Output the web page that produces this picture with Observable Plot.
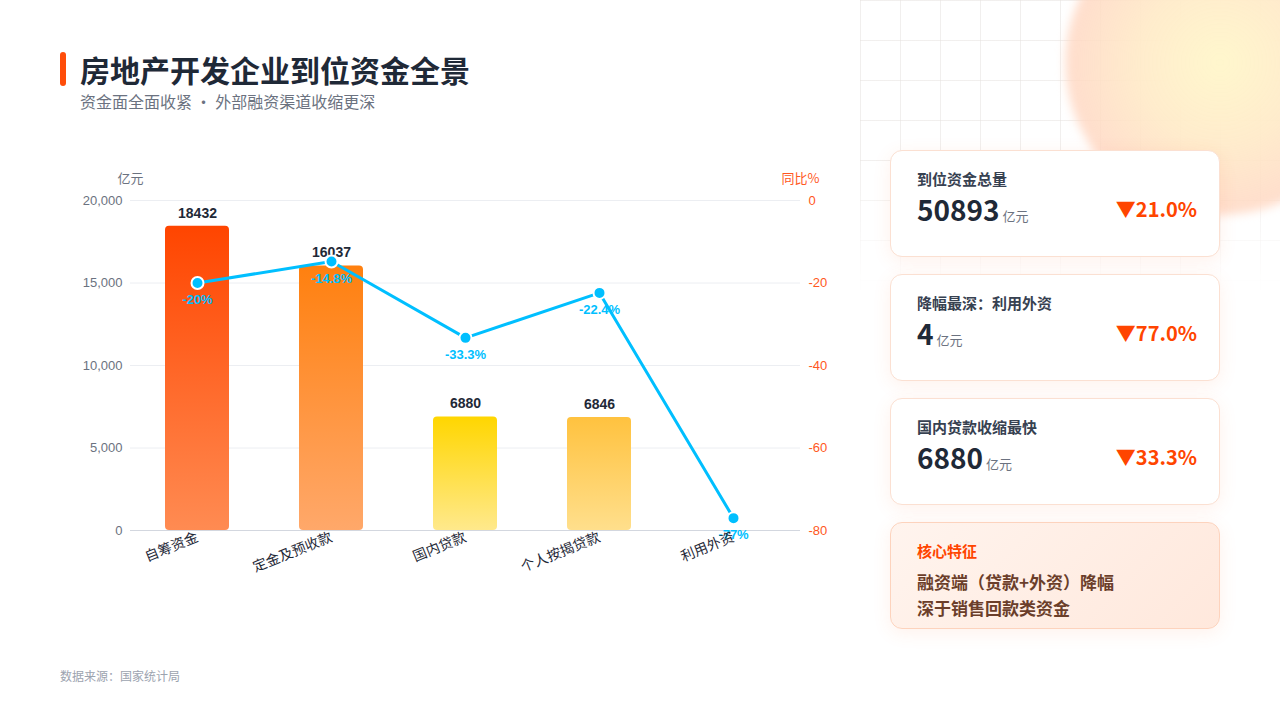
<!DOCTYPE html>
<html lang="zh-CN">
<head>
<meta charset="utf-8">
<script src="https://cdn.jsdelivr.net/npm/d3@7"></script>
<script src="https://cdn.jsdelivr.net/npm/@observablehq/plot@0.6"></script>
<style>
  html, body { margin: 0; padding: 0; }
  body {
    width: 1280px; height: 720px; overflow: hidden; position: relative; background: #ffffff;
    font-family: "Noto Sans CJK SC", "Noto Sans", sans-serif;
  }
  .grid-bg {
    position: absolute; left: 860px; top: 0; width: 420px; height: 290px;
    background-image:
      linear-gradient(to right, rgba(230,226,224,0.55) 1px, transparent 1px),
      linear-gradient(to bottom, rgba(230,226,224,0.55) 1px, transparent 1px);
    background-size: 40px 40px;
    background-position: 0 0;
    -webkit-mask-image: linear-gradient(to bottom, #000 55%, transparent 100%);
    mask-image: linear-gradient(to bottom, #000 55%, transparent 100%);
  }
  .blob {
    position: absolute; left: 1065px; top: -90px; width: 310px; height: 305px; border-radius: 50%;
    background: radial-gradient(circle at 50% 50%, rgba(255,247,205,1) 0%, rgba(255,234,200,0.92) 38%, rgba(255,214,192,0.8) 68%, rgba(255,218,204,0) 100%);
    filter: blur(5px);
  }
  .title-bar { position: absolute; left: 60px; top: 52px; width: 6px; height: 34px; border-radius: 3px; background: #FF4D0A; }
  .title { position: absolute; left: 80px; top: 48px; font-size: 30px; font-weight: 700; color: #1f2937; line-height: 42px; letter-spacing: 0px; }
  .subtitle { position: absolute; left: 80px; top: 90px; font-size: 16px; color: #6b7280; line-height: 22px; }
  #chart { position: absolute; left: 0; top: 160px; }
  .source { position: absolute; left: 60px; top: 667px; font-size: 12px; color: #9ca3af; line-height: 18px; }
  .card {
    position: absolute; left: 890px; width: 330px; height: 107px; box-sizing: border-box;
    background: #ffffff; border: 1px solid #fbe0d2; border-radius: 12px;
    box-shadow: 0 4px 18px rgba(255,120,60,0.10);
    padding: 17px 26px 0 26px;
  }
  .card .ct { font-size: 15px; font-weight: 700; color: #374151; line-height: 22px; }
  .card .row { position: relative; margin-top: 1px; height: 36px; }
  .card .num { font-size: 28px; font-weight: 700; color: #1f2937; line-height: 36px; }
  .card .unit { font-size: 13px; color: #6b7280; margin-left: 3px; }
  .card .chg { position: absolute; right: -4px; top: 0; font-size: 20px; font-weight: 700; color: #FF4500; line-height: 36px; }
  .card.core {
    background: linear-gradient(135deg, #fff4ee 0%, #ffe8dc 100%);
    border: 1px solid #fdd3bd;
  }
  .core .ct { color: #FF4500; }
  .core .body { margin-top: 7px; font-size: 17px; font-weight: 700; color: #6b3e2a; line-height: 26px; }
</style>
</head>
<body>
<div class="grid-bg"></div>
<div class="blob"></div>
<div class="title-bar"></div>
<div class="title">房地产开发企业到位资金全景</div>
<div class="subtitle">资金面全面收紧 · 外部融资渠道收缩更深</div>
<div id="chart"></div>
<div class="source">数据来源：国家统计局</div>

<div class="card" style="top:150px">
  <div class="ct">到位资金总量</div>
  <div class="row"><span class="num">50893</span><span class="unit">亿元</span><span class="chg">▼21.0%</span></div>
</div>
<div class="card" style="top:274px">
  <div class="ct">降幅最深：利用外资</div>
  <div class="row"><span class="num">4</span><span class="unit">亿元</span><span class="chg">▼77.0%</span></div>
</div>
<div class="card" style="top:398px">
  <div class="ct">国内贷款收缩最快</div>
  <div class="row"><span class="num">6880</span><span class="unit">亿元</span><span class="chg">▼33.3%</span></div>
</div>
<div class="card core" style="top:522px">
  <div class="ct">核心特征</div>
  <div class="body">融资端（贷款+外资）降幅<br>深于销售回款类资金</div>
</div>

<script>
// ---- data ----
const categories = ["自筹资金", "定金及预收款", "国内贷款", "个人按揭贷款", "利用外资"];
const amounts = [18432, 16037, 6880, 6846, 4];          // 亿元
const yoyPct = [-20, -14.8, -33.3, -22.4, -77];          // 同比%
const leftTicks = [0, 5000, 10000, 15000, 20000];
const rightTicks = [0, -20, -40, -60, -80];

// ---- styles ----
const barGradients = [
  ["#FF4500", "#FF8B52"],
  ["#FF800F", "#FFA86A"],
  ["#FFD600", "#FFE98C"],
  ["#FFC23F", "#FFDF8C"],
  ["#7DD3FC", "#C7ECFD"]
];
const lineColor = "#00BFFF";

// map the right (percent) axis onto the left (amount) scale
const pctToAmt = d3.scaleLinear().domain([-80, 0]).range([0, 20000]);

const rows = categories.map((c, i) => ({
  cat: c, amount: amounts[i], yoy: yoyPct[i], yoyPos: pctToAmt(yoyPct[i])
}));

const chart = Plot.plot({
  width: 860,
  height: 440,
  marginLeft: 130,
  marginRight: 60,
  marginTop: 40,
  marginBottom: 70,
  style: { fontFamily: "'Liberation Sans', 'Noto Sans CJK SC', sans-serif", fontSize: "13px", background: "transparent", overflow: "visible" },
  x: { domain: categories, paddingInner: 0.52, paddingOuter: 0.26, label: null },
  y: { domain: [0, 20000], label: null },
  color: { domain: categories, range: categories.map((_, i) => `url(#barGrad${i})`) },
  marks: [
    Plot.ruleY(leftTicks.filter(d => d > 0), { stroke: "#eceef2", strokeWidth: 1 }),
    Plot.barY(rows, { x: "cat", y: "amount", fill: "cat", rx: 4 }),
    Plot.ruleY([0], { stroke: "#d3d7df", strokeWidth: 1.2 }),
    Plot.text(rows.filter(d => d.amount > 100), {
      x: "cat", y: "amount", text: d => String(d.amount), dy: -13,
      fontWeight: "bold", fontSize: 14, fill: "#1f2937"
    }),
    Plot.line(rows, { x: "cat", y: "yoyPos", stroke: lineColor, strokeWidth: 3 }),
    Plot.dot(rows, { x: "cat", y: "yoyPos", r: 6, fill: lineColor, stroke: "#ffffff", strokeWidth: 2 }),
    Plot.text(rows, {
      x: "cat", y: "yoyPos", text: d => d.yoy + "%", dy: 17,
      fill: lineColor, fontWeight: "bold", fontSize: 13
    }),
    Plot.axisY(leftTicks, {
      anchor: "left", tickSize: 0, tickPadding: 8, label: null,
      tickFormat: d3.format(","), fill: "#6b7280", fontSize: 13
    }),
    Plot.axisY(rightTicks.map(pctToAmt), {
      anchor: "right", tickSize: 0, tickPadding: 8, label: null,
      tickFormat: d => String(Math.round(pctToAmt.invert(d))), fill: "#FF5722", fontSize: 13
    }),
    Plot.axisX({
      anchor: "bottom", tickRotate: -22, tickSize: 0, tickPadding: 6, label: null,
      fill: "#1f2937", fontSize: 14, fontFamily: "'Noto Sans CJK SC', sans-serif"
    }),
    Plot.text(["亿元"], { frameAnchor: "top-left", dx: 0, dy: -22, textAnchor: "middle", lineAnchor: "middle", fill: "#6b7280", fontSize: 13, fontFamily: "'Noto Sans CJK SC', sans-serif" }),
    Plot.text(["同比%"], { frameAnchor: "top-right", dx: 0, dy: -22, textAnchor: "middle", lineAnchor: "middle", fill: "#FF5722", fontSize: 13, fontFamily: "'Noto Sans CJK SC', sans-serif" })
  ]
});

// gradient definitions for the bars
const defs = d3.select(chart).insert("defs", ":first-child");
barGradients.forEach(([top, bottom], i) => {
  const g = defs.append("linearGradient").attr("id", `barGrad${i}`)
    .attr("x1", 0).attr("y1", 0).attr("x2", 0).attr("y2", 1);
  g.append("stop").attr("offset", "0%").attr("stop-color", top);
  g.append("stop").attr("offset", "100%").attr("stop-color", bottom);
});

document.getElementById("chart").appendChild(chart);
</script>
</body>
</html>
